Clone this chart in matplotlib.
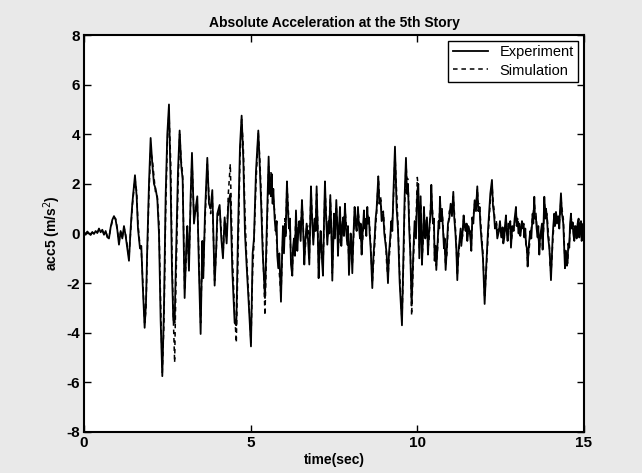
import matplotlib
matplotlib.use("Agg")
import matplotlib.pyplot as plt

plt.rcParams['font.family'] = ['Liberation Sans', 'DejaVu Sans']
plt.rcParams['axes.unicode_minus'] = False

# time axis (s) and 5th-story absolute acceleration (m/s^2)
time = [
    0.00, 0.05, 0.10, 0.15, 0.20, 0.25, 0.30, 0.35, 0.40, 0.45,
    0.50, 0.55, 0.60, 0.65, 0.70, 0.75, 0.80, 0.85, 0.90, 0.95,
    1.00, 1.05, 1.10, 1.15, 1.20, 1.25, 1.30, 1.35, 1.40, 1.45,
    1.53, 1.58, 1.62, 1.68, 1.72, 1.76, 1.82, 1.86, 1.90, 1.95,
    2.00, 2.05, 2.10, 2.15, 2.20, 2.25, 2.30, 2.35, 2.40, 2.45,
    2.50, 2.55, 2.60, 2.64, 2.68, 2.72, 2.76, 2.82, 2.87, 2.92,
    2.96, 3.02, 3.07, 3.10, 3.15, 3.20, 3.24, 3.30, 3.35, 3.40,
    3.45, 3.50, 3.55, 3.58, 3.63, 3.70, 3.75, 3.80, 3.85, 3.92,
    3.97, 4.00, 4.07, 4.12, 4.17, 4.22, 4.28, 4.33, 4.39, 4.45,
    4.52, 4.57, 4.62, 4.68, 4.73, 4.78, 4.83, 4.88, 4.95, 5.01,
    5.06, 5.10, 5.16, 5.23, 5.28, 5.32, 5.36, 5.43, 5.48, 5.54,
    5.57, 5.59, 5.61, 5.63, 5.66, 5.68, 5.72, 5.75, 5.78, 5.80,
    5.83, 5.86, 5.91, 5.95, 5.97, 6.00, 6.03, 6.05, 6.09, 6.12,
    6.15, 6.18, 6.21, 6.25, 6.27, 6.30, 6.33, 6.36, 6.40, 6.43,
    6.46, 6.50, 6.54, 6.57, 6.61, 6.64, 6.68, 6.72, 6.76, 6.81,
    6.84, 6.88, 6.92, 6.95, 6.98, 7.01, 7.04, 7.07, 7.10, 7.13,
    7.17, 7.20, 7.23, 7.26, 7.30, 7.34, 7.36, 7.39, 7.42, 7.45,
    7.50, 7.53, 7.57, 7.60, 7.62, 7.65, 7.68, 7.72, 7.75, 7.78,
    7.80, 7.83, 7.86, 7.90, 7.92, 7.95, 8.00, 8.02, 8.05, 8.08,
    8.12, 8.15, 8.18, 8.22, 8.25, 8.28, 8.30, 8.33, 8.36, 8.40,
    8.42, 8.45, 8.47, 8.50, 8.52, 8.55, 8.57, 8.60, 8.65, 8.68,
    8.72, 8.75, 8.78, 8.83, 8.86, 8.90, 8.93, 8.98, 9.01, 9.05,
    9.08, 9.12, 9.15, 9.18, 9.22, 9.25, 9.28, 9.33, 9.38, 9.42,
    9.47, 9.54, 9.58, 9.62, 9.66, 9.69, 9.72, 9.76, 9.79, 9.83,
    9.88, 9.92, 9.96, 10.00, 10.03, 10.06, 10.08, 10.10, 10.12, 10.14,
    10.17, 10.20, 10.22, 10.24, 10.27, 10.29, 10.32, 10.35, 10.37, 10.40,
    10.42, 10.45, 10.47, 10.50, 10.52, 10.55, 10.57, 10.61, 10.64, 10.66,
    10.68, 10.71, 10.74, 10.77, 10.80, 10.82, 10.85, 10.89, 10.92, 10.96,
    11.00, 11.04, 11.08, 11.11, 11.14, 11.17, 11.20, 11.23, 11.27, 11.30,
    11.32, 11.36, 11.39, 11.42, 11.45, 11.48, 11.50, 11.53, 11.57, 11.60,
    11.62, 11.65, 11.68, 11.72, 11.76, 11.80, 11.83, 11.87, 11.89, 11.92,
    11.97, 12.02, 12.07, 12.12, 12.19, 12.24, 12.27, 12.30, 12.33, 12.37,
    12.40, 12.45, 12.48, 12.52, 12.56, 12.58, 12.61, 12.63, 12.66, 12.68,
    12.71, 12.74, 12.76, 12.79, 12.81, 12.85, 12.89, 12.92, 12.96, 12.98,
    13.01, 13.04, 13.06, 13.09, 13.11, 13.14, 13.16, 13.19, 13.21, 13.24,
    13.26, 13.29, 13.31, 13.35, 13.39, 13.42, 13.46, 13.48, 13.51, 13.53,
    13.56, 13.58, 13.61, 13.63, 13.66, 13.68, 13.71, 13.74, 13.76, 13.79,
    13.81, 13.84, 13.86, 13.89, 13.92, 13.96, 13.98, 14.01, 14.04, 14.06,
    14.08, 14.11, 14.13, 14.16, 14.19, 14.23, 14.26, 14.28, 14.31, 14.34,
    14.38, 14.40, 14.43, 14.46, 14.49, 14.51, 14.53, 14.56, 14.58, 14.61,
    14.63, 14.66, 14.68, 14.71, 14.73, 14.76, 14.78, 14.81, 14.84, 14.86,
    14.88, 14.91, 14.93, 14.96, 14.98, 15.00,
]

experiment = [
    0.05, -0.05, 0.08, 0.00, -0.06, 0.05, -0.02, 0.10, 0.02, 0.20,
    0.05, 0.15, -0.05, 0.10, -0.15, -0.20, 0.25, 0.55, 0.70, 0.55,
    0.15, -0.45, 0.10, -0.20, 0.30, -0.10, -0.60, -1.10, 0.20, 1.20,
    2.35, 1.50, 0.20, -0.60, -0.50, -2.00, -3.80, -2.80, -0.50, 2.00,
    3.85, 2.80, 2.00, 1.80, 1.40, 0.00, -3.50, -5.75, -3.00, 1.50,
    4.00, 5.20, 2.00, -1.50, -3.50, -3.60, -1.00, 2.50, 4.15, 2.70,
    2.20, -2.60, -0.50, 0.30, -1.50, 1.50, 3.25, 0.40, 1.00, 1.50,
    -1.50, -4.05, -0.30, -1.80, 0.80, 3.05, 1.20, 1.00, 1.75, -2.10,
    -0.50, 0.80, 1.15, -0.20, -1.00, 0.65, -0.40, 1.20, 1.60, -1.50,
    -3.60, -3.70, 0.00, 3.50, 4.75, 3.00, 0.00, -1.30, -3.00, -4.55,
    -0.80, -0.20, 2.50, 4.15, 2.50, 1.00, -0.70, -2.60, 0.00, 3.10,
    1.60, 2.00, 1.50, 2.40, 1.20, 1.80, 0.60, 0.10, 0.50, -0.90,
    -1.40, -0.80, -2.75, -0.50, 0.30, -0.80, 0.40, 0.00, 2.10, 0.90,
    0.20, 0.60, -1.25, -1.70, -0.60, -0.20, -0.90, 0.93, -0.70, 0.10,
    0.50, -0.30, 1.35, 0.40, -1.25, -0.30, 0.40, -0.20, -1.25, 1.90,
    0.70, -0.45, 0.60, 0.10, 1.90, 0.30, -1.80, -0.60, 0.10, -0.80,
    -1.70, 0.40, 2.10, 0.80, -0.45, 0.50, 0.00, 1.55, 0.20, -1.90,
    0.80, -0.20, 1.35, 0.30, -0.90, 0.20, 1.07, -0.50, 0.30, 0.65,
    -0.10, 1.20, 0.20, -0.45, 0.30, -1.67, 0.00, -0.30, -1.60, -0.20,
    1.07, 0.40, 0.10, 1.07, 0.30, -0.20, 0.40, -0.85, 0.00, 0.93,
    0.20, 0.50, -0.10, 1.07, 0.40, 0.65, 0.00, -0.57, -2.20, -1.00,
    -0.20, 0.60, 1.00, 2.30, 1.20, 1.35, 0.50, 0.80, 0.00, -0.45,
    -0.80, -2.00, -0.80, -0.30, 0.50, 0.10, 1.50, 3.50, 1.00, 0.20,
    -1.95, -3.70, -1.00, 1.50, 3.05, 1.60, 2.00, 0.10, -0.80, -2.90,
    -0.80, 0.50, -0.20, 1.70, 2.00, -1.00, 0.20, 1.50, 0.10, -1.26,
    -0.20, 1.07, 0.30, -0.20, 0.30, 0.65, -0.85, 0.00, 0.40, 0.90,
    1.96, 0.80, 0.40, 0.60, -1.10, -0.50, -1.47, -0.30, 0.50, 0.20,
    1.48, 0.50, 0.90, 0.20, -0.60, -0.20, -1.47, -0.50, 0.40, 0.60,
    1.20, 0.70, 1.68, 0.60, 0.10, -0.60, -1.88, -0.80, -0.20, 0.20,
    -0.50, 0.10, 0.73, 0.30, 0.10, 0.40, -0.30, 0.30, 0.10, -0.30,
    -0.70, 0.65, 0.40, 1.34, 0.90, 1.90, 0.90, 1.07, 0.40, -0.16,
    -1.00, -2.84, -1.26, 0.10, 1.60, 2.16, 1.10, 0.80, 0.20, 0.40,
    -0.20, 0.10, 0.50, -0.16, 0.25, -0.40, -0.16, 0.30, 0.73, 0.10,
    -0.30, 0.40, 0.25, 0.50, -0.57, 0.30, 0.10, 0.60, 1.07, 0.30,
    0.50, 0.00, 0.40, -0.10, 0.10, 0.50, 0.25, 0.40, -0.16, 0.20,
    -0.45, -0.60, -1.33, -0.40, 0.10, -0.20, 0.80, 0.40, 1.48, 0.60,
    0.65, 0.20, -0.16, 0.30, -0.85, -0.20, 0.10, 0.40, -0.65, 0.50,
    1.48, 0.60, 1.00, 0.65, -0.10, -0.57, -1.00, -1.88, -0.80, -0.16,
    0.30, 0.80, 0.30, 0.87, 0.40, 0.65, 0.20, 0.90, 1.62, 0.80,
    0.40, -0.30, -1.40, -0.70, -1.30, -1.10, -0.40, -0.57, 0.30, 0.80,
    0.20, 0.45, 0.00, -0.30, 0.30, 0.25, -0.20, 0.40, 0.60, -0.16,
    0.30, 0.50, -0.30, -0.16, 0.40, 0.10,
]

simulation = [
    0.02, 0.00, 0.05, 0.03, -0.04, 0.06, 0.00, 0.08, 0.04, 0.15,
    0.08, 0.12, -0.02, 0.08, -0.10, -0.15, 0.20, 0.50, 0.65, 0.60,
    0.20, -0.35, 0.05, -0.15, 0.25, -0.05, -0.50, -0.95, 0.10, 1.10,
    2.20, 1.70, 0.40, -0.50, -0.70, -1.80, -3.60, -3.10, -0.80, 1.60,
    3.30, 3.00, 2.30, 1.60, 1.50, 0.40, -2.80, -5.60, -3.60, 0.80,
    3.60, 4.90, 3.00, -0.80, -3.40, -5.20, -2.00, 1.80, 4.00, 2.90,
    2.40, -2.30, -0.90, 0.10, -1.30, 1.20, 3.00, 0.70, 0.80, 1.20,
    -1.00, -3.60, -0.80, -1.50, 0.40, 2.80, 1.50, 0.80, 1.50, -1.90,
    -0.70, 0.50, 1.00, 0.10, -0.90, 0.50, -0.20, 1.60, 2.80, -0.80,
    -3.20, -4.40, -1.00, 3.00, 4.60, 3.50, 0.80, -1.00, -2.70, -4.40,
    -1.50, -0.40, 2.00, 4.05, 2.90, 1.40, -0.30, -3.30, -0.60, 2.70,
    2.20, 1.80, 2.45, 2.00, 1.90, 1.40, 0.90, 0.40, -0.30, -0.60,
    -1.20, -1.60, -2.50, -0.90, 0.00, -0.60, 0.60, -0.20, 2.10, 1.20,
    0.50, 0.10, -1.00, -1.50, -0.90, -0.40, -0.30, 0.80, -0.40, 0.40,
    0.30, 0.10, 1.20, 0.60, -1.00, -0.60, 0.20, 0.30, -1.00, 1.70,
    0.90, -0.20, 0.40, 0.60, 1.60, 0.60, -1.40, -0.90, -0.10, -0.40,
    -1.50, 0.10, 1.80, 1.00, -0.20, 0.30, 0.60, 1.40, 0.50, -1.60,
    0.50, 0.10, 1.10, 0.50, -0.70, -0.30, 0.90, -0.30, 0.10, 0.50,
    0.30, 1.00, 0.50, -0.30, 0.00, -1.40, -0.20, -0.10, -1.30, -0.50,
    0.90, 0.70, 0.30, 0.90, 0.60, 0.00, 0.20, -0.70, -0.30, 0.70,
    0.40, 0.60, 0.20, 0.90, 0.60, 0.70, 0.30, -0.40, -2.00, -1.40,
    -0.50, 0.30, 0.80, 2.30, 1.60, 1.50, 0.80, 0.90, 0.30, -0.30,
    -1.20, -1.80, -1.10, -0.60, 0.30, 0.50, 1.20, 3.20, 1.60, 0.40,
    -1.60, -3.50, -1.60, 1.00, 2.80, 2.20, 2.20, 0.40, -0.50, -3.30,
    -1.20, 0.20, 0.40, 2.26, 1.80, -0.60, -0.20, 1.20, 0.40, -1.00,
    -0.50, 0.90, 0.60, 0.00, -0.10, 0.50, -0.60, -0.30, 0.30, 1.10,
    1.70, 1.10, 0.60, 0.20, -0.90, -0.80, -1.30, -0.60, 0.30, 0.60,
    1.30, 0.80, 1.00, 0.40, -0.40, -0.60, -1.30, -0.80, 0.20, 0.90,
    1.00, 1.00, 1.50, 0.90, 0.30, -0.40, -1.70, -1.10, -0.40, 0.00,
    -0.30, -0.10, 0.60, 0.50, 0.20, 0.10, -0.20, 0.10, 0.00, 0.10,
    -0.50, 0.40, 0.70, 1.20, 1.10, 1.80, 1.20, 1.20, 0.70, 0.10,
    -0.80, -2.60, -1.50, -0.20, 1.30, 2.00, 1.40, 1.00, 0.50, 0.50,
    0.10, 0.20, 0.30, -0.10, 0.20, -0.20, -0.10, 0.10, 0.60, 0.40,
    -0.20, 0.10, 0.30, 0.20, -0.40, 0.00, 0.20, 0.40, 0.90, 0.60,
    0.60, 0.30, 0.30, 0.20, 0.20, 0.30, 0.20, 0.30, -0.10, 0.00,
    -0.30, -0.80, -1.10, -0.70, -0.10, 0.20, 0.70, 0.80, 1.30, 0.90,
    0.80, 0.40, 0.00, 0.00, -0.70, -0.40, 0.00, 0.20, -0.50, 0.20,
    1.30, 0.90, 0.80, 0.80, 0.20, -0.40, -1.20, -1.60, -1.00, -0.40,
    0.00, 0.60, 0.60, 0.90, 0.60, 0.70, 0.40, 0.70, 1.40, 1.00,
    0.60, 0.00, -1.20, -0.90, -1.00, -1.20, -0.70, -0.40, 0.00, 0.70,
    0.50, 0.50, 0.20, -0.20, 0.10, 0.30, 0.00, 0.30, 0.40, -0.10,
    0.10, 0.40, 0.00, -0.10, 0.20, 0.10,
]

x_ticks = [0, 5, 10, 15]
y_ticks = [-8, -6, -4, -2, 0, 2, 4, 6, 8]

fig = plt.figure(figsize=(6.42, 4.73), dpi=100, facecolor='#e9e9e9')
ax = fig.add_axes([0.1308, 0.0867, 0.7788, 0.8393])
ax.set_facecolor('white')

ax.plot(time, experiment, color='black', linewidth=1.3, label='Experiment')
ax.plot(time, simulation, color='black', linewidth=1.1, linestyle=(0, (3, 2.5)),
        label='Simulation')

ax.set_xlim(0, 15)
ax.set_ylim(-8, 8)
ax.set_xticks(x_ticks)
ax.set_yticks(y_ticks)
ax.tick_params(direction='in', length=5, width=1, top=True, right=True,
               labelsize=11, pad=3)
for lbl in ax.get_xticklabels() + ax.get_yticklabels():
    lbl.set_fontweight('bold')
for sp in ax.spines.values():
    sp.set_linewidth(1.5)

ax.set_title('Absolute Acceleration at the 5th Story', fontsize=10,
             fontweight='bold', pad=6)
ax.set_xlabel('time(sec)', fontsize=10, fontweight='bold', labelpad=2)
ax.set_ylabel('acc5 (m/s$^2$)', fontsize=10, fontweight='bold', labelpad=2)

leg = ax.legend(loc='upper right', fontsize=10.5, frameon=True, fancybox=False,
                edgecolor='black', framealpha=1, handlelength=2.4,
                borderpad=0.3, labelspacing=0.3, handletextpad=0.8,
                borderaxespad=0.4)
leg.get_frame().set_linewidth(1.0)

fig.savefig('out.png', dpi=100, facecolor=fig.get_facecolor())
